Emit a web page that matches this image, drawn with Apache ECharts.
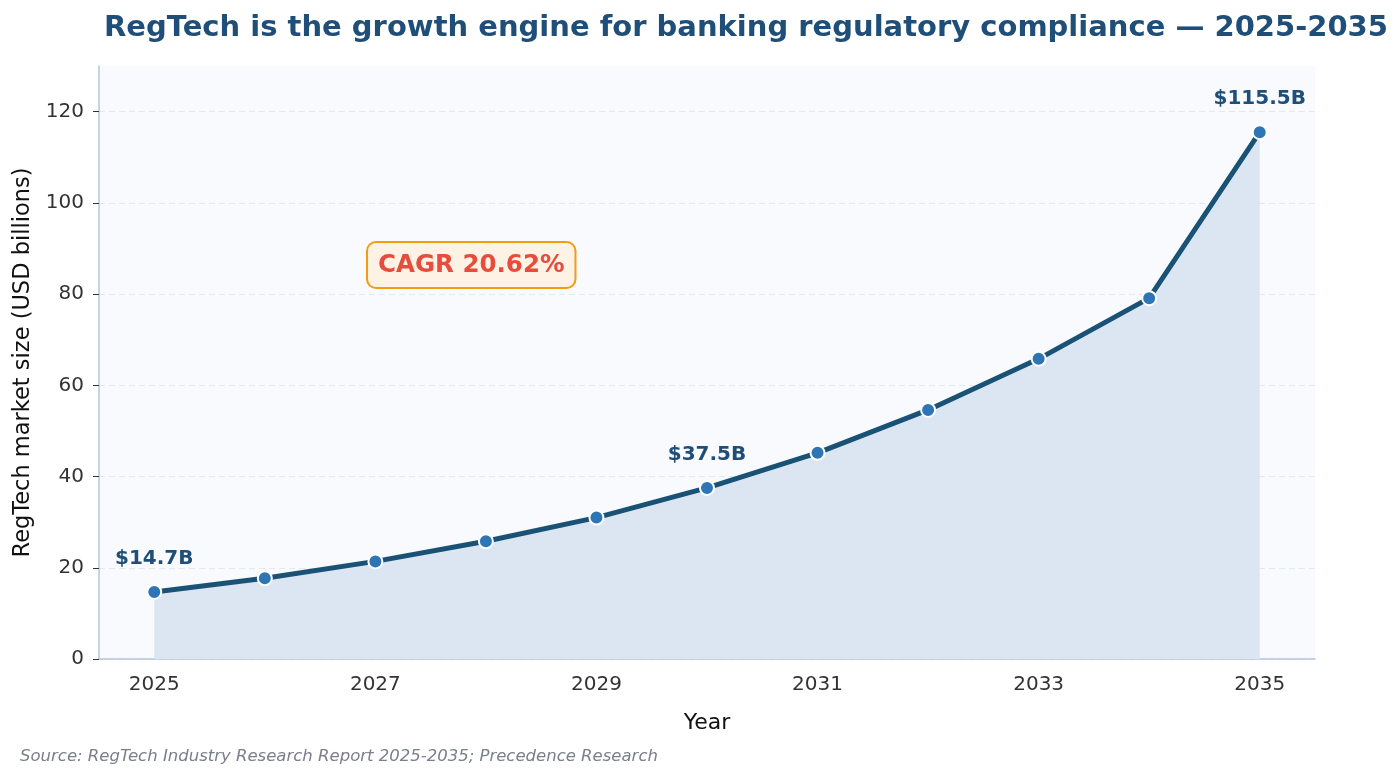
<!DOCTYPE html>
<html lang="en">
<head>
    <meta charset="UTF-8">
    <title>RegTech market size</title>
    <script src="https://cdn.jsdelivr.net/npm/echarts@6/dist/echarts.min.js"></script>
    <style>
        html, body { margin: 0; padding: 0; background: #fff; }
        #chart { width: 1400px; height: 780px; }
    </style>
</head>
<body>
    <div id="chart"></div>
    <script>
        // data
        var years = ['2025', '2026', '2027', '2028', '2029', '2030', '2031', '2032', '2033', '2034', '2035'];
        var marketSize = [14.7, 17.7, 21.4, 25.8, 31.0, 37.5, 45.2, 54.6, 65.8, 79.1, 115.5];
        var labelledYears = ['2025', '2030', '2035'];
        var yTicks = [0, 20, 40, 60, 80, 100, 120];

        var font = "'DejaVu Sans', sans-serif";
        var dark = '#1f4e79';

        var seriesData = marketSize.map(function (v, i) {
            return {
                value: v,
                label: { show: labelledYears.indexOf(years[i]) >= 0 }
            };
        });

        var chart = echarts.init(document.getElementById('chart'));
        var option = {
            animation: false,
            backgroundColor: '#ffffff',
            textStyle: { fontFamily: font },
            title: {
                text: 'RegTech is the growth engine for banking regulatory compliance \u2014 2025-2035',
                left: 99,
                top: 9,
                textStyle: { fontFamily: font, fontSize: 29, fontWeight: 'bold', color: dark }
            },
            grid: {
                left: 99, right: 85, top: 66, bottom: 121,
                outerBoundsMode: 'none',
                containLabel: false,
                show: true,
                backgroundColor: '#f8fafd',
                borderWidth: 0
            },
            xAxis: {
                type: 'category',
                data: years,
                boundaryGap: true,
                name: 'Year',
                nameLocation: 'middle',
                nameGap: 53,
                nameTextStyle: { fontFamily: font, fontSize: 22, color: '#111' },
                axisLine: { lineStyle: { color: '#b3c6de', width: 1.5 } },
                axisTick: { alignWithLabel: true, interval: 1, length: 6, lineStyle: { color: '#333' } },
                axisLabel: { interval: 1, fontFamily: font, fontSize: 20, color: '#333', margin: 16 },
                splitLine: { show: false }
            },
            yAxis: {
                type: 'value',
                min: 0,
                max: 130,
                interval: 20,
                name: 'RegTech market size (USD billions)',
                nameLocation: 'middle',
                nameGap: 63,
                nameTextStyle: { fontFamily: font, fontSize: 22.5, color: '#111' },
                axisLine: { show: true, lineStyle: { color: '#b3c6de', width: 1.5 } },
                axisTick: { show: true, length: 6, lineStyle: { color: '#333' }, customValues: yTicks },
                axisLabel: {
                    fontFamily: font, fontSize: 20, color: '#333', margin: 15,
                    customValues: yTicks
                },
                splitLine: { show: true, lineStyle: { color: '#e3e9f1', type: [6, 4], width: 1 } }
            },
            series: [{
                type: 'line',
                data: seriesData,
                symbol: 'circle',
                symbolSize: 14,
                lineStyle: { color: '#1a5276', width: 5 },
                itemStyle: { color: '#2e75b6', borderColor: '#ffffff', borderWidth: 2 },
                areaStyle: { color: '#dbe6f2', opacity: 1 },
                label: {
                    position: 'top',
                    distance: 15,
                    formatter: function (p) { return '$' + p.value.toFixed(1) + 'B'; },
                    fontFamily: font,
                    fontSize: 20,
                    fontWeight: 'bold',
                    color: dark
                },
                z: 3
            }],
            graphic: [
                {
                    type: 'text',
                    left: 366,
                    top: 241,
                    z: 10,
                    style: {
                        text: 'CAGR 20.62%',
                        fontFamily: font,
                        fontSize: 24.5,
                        fontWeight: 'bold',
                        fill: '#e74c3c',
                        backgroundColor: '#fdf2e3',
                        borderColor: '#f39c12',
                        borderWidth: 2,
                        borderRadius: 8,
                        padding: [10, 10, 9, 10]
                    }
                },
                {
                    type: 'text',
                    left: 20,
                    top: 748,
                    style: {
                        text: 'Source: RegTech Industry Research Report 2025-2035; Precedence Research',
                        fontFamily: font,
                        fontSize: 16.5,
                        fontStyle: 'italic',
                        fill: '#7a7f8c'
                    }
                }
            ]
        };
        chart.setOption(option);
    </script>
</body>
</html>
